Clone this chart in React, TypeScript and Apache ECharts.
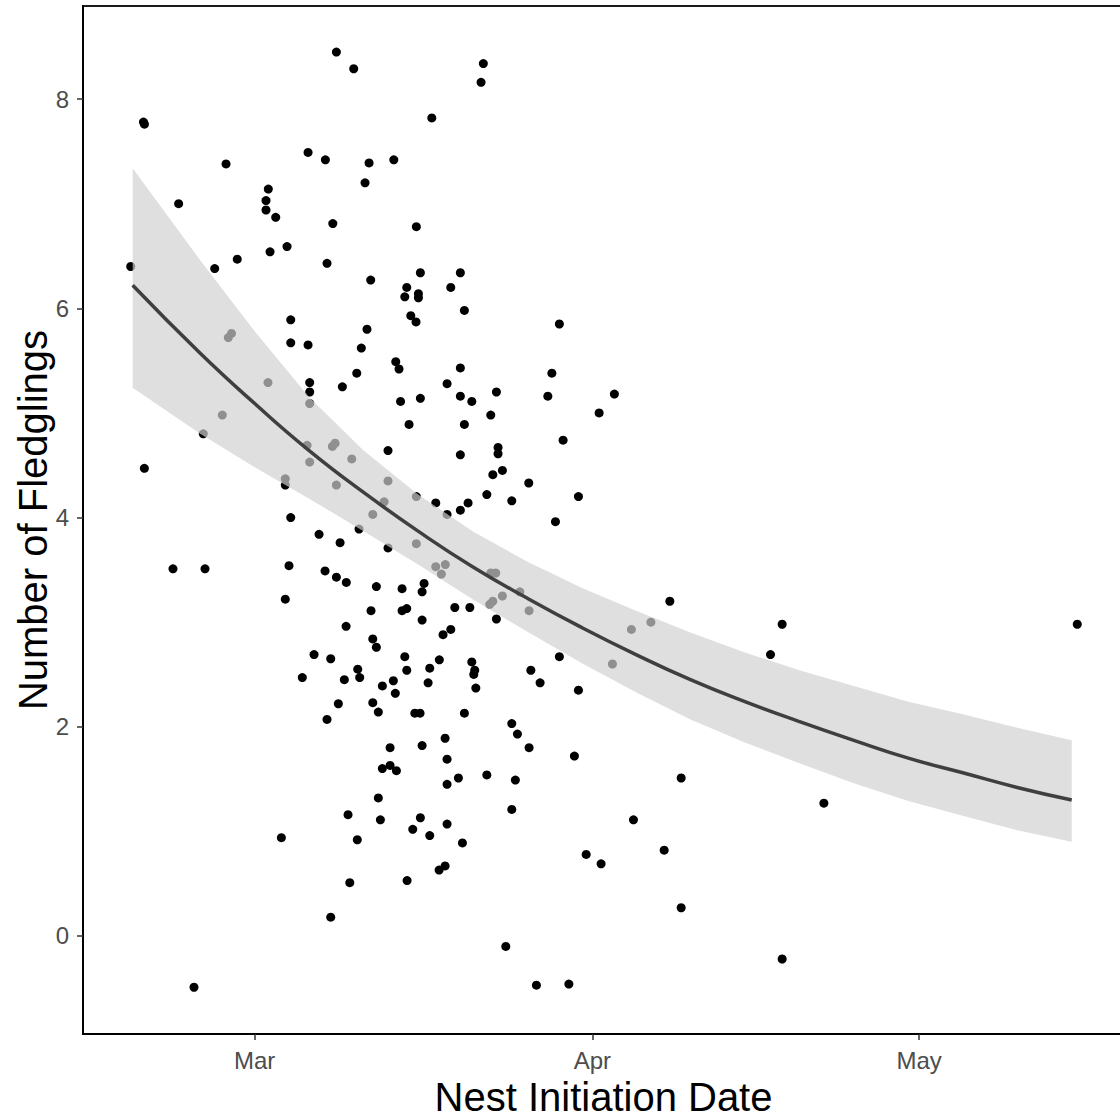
import React, { useEffect, useRef } from "react";
import * as echarts from "echarts";

// Month ticks: days counted from 1 March
const monthTickDays = [0, 31, 61];
const monthTickLabels = ["Mar", "Apr", "May"];
const yTickValues = [0, 2, 4, 6, 8];

// Nest initiation (days after 1 March) for each nest
const nestDay = [
  7.5, 9.09, -10.21, -10.12, -2.63, 4.9, 6.49, 10.5, 12.77, 10.13,
  1.25, 1.04, 1.04, 1.93, 7.17, -6.98, 1.41, 2.97, 6.64, 10.65,
  -11.38, -3.67, -1.6, 3.31, 10.31, 3.31, 4.9, 9.79, 12.95, -2.42,
  -2.13, 20.99, 20.78, 16.26, 14.84, 15.21, 18.88, 13.96, 18.0, 13.78,
  15.03, 15.03, 19.25, 14.33, 14.81, 27.97, 9.37, 5.05, 5.05, 8.05,
  13.25, 13.39, 1.22, -2.97, -4.72, 5.05, -10.13, 4.81, 7.13, 7.38,
  5.05, 8.91, 2.81, 2.81, 7.5, 12.24, 12.24, 11.88, 10.84, 9.58,
  12.24, 3.31, 5.91, 7.84, -7.5, -4.56, 3.15, 6.46, 7.5, 8.41,
  11.17, 13.53, 2.81, 10.68, 13.53, 13.96, 8.39, 10.84, 11.17, 5.45,
  6.98, 4.37, 8.23, 9.46, 9.64, 11.72, 12.73, 18.88, 27.28, 17.66,
  15.21, 18.88, 19.93, 22.19, 26.91, 33.02, 31.62, 14.17, 19.25, 21.67,
  28.31, 18.88, 22.34, 22.34, 21.86, 22.74, 25.16, 21.31, 23.6, 29.72,
  27.61, 16.62, 19.59, 18.88, 17.66, 14.84, 14.84, 16.62, 17.5, 17.14,
  21.67, 22.13, 22.74, 24.34, 21.58, 21.86, 25.19, 22.19, 34.58, 36.37,
  32.84, 38.11, 15.55, 15.37, 18.37, 19.75, 15.37, 17.29, 18.0, 13.78,
  13.96, 16.07, 16.95, 19.93, 20.2, 20.11, 27.97, 25.35, 26.2, 15.92,
  20.3, 29.72, 12.91, 7.68, 10.84, 11.35, 6.64, 12.43, 11.72, 12.43,
  13.01, 11.35, 8.57, 11.54, 2.45, 9.42, 8.73, 6.98, -5.57, 14.7,
  15.18, 19.25, 23.6, 24.12, 25.19, 29.35, 17.48, 15.37, 17.66, 18.7,
  17.66, 21.31, 23.93, 39.15, 23.6, 15.21, 14.51, 16.07, 17.66, 19.07,
  16.93, 17.48, 13.99, 34.77, 37.59, 30.43, 31.8, 39.15, 23.05, 25.86,
  28.84, 48.42, 75.51, 47.35, 52.25, 48.42,
];

// Number of fledglings (jittered) for each nest
const fledglings = [
  8.45, 8.29, 7.78, 7.76, 7.38, 7.49, 7.42, 7.39, 7.42, 7.2,
  7.14, 7.03, 6.94, 6.87, 6.81, 7.0, 6.54, 6.59, 6.43, 6.27,
  6.4, 6.38, 6.47, 5.89, 5.8, 5.67, 5.65, 5.62, 5.49, 5.72,
  5.76, 8.34, 8.16, 7.82, 6.78, 6.34, 6.34, 6.2, 6.2, 6.11,
  6.14, 6.1, 5.98, 5.93, 5.87, 5.85, 5.38, 5.29, 5.2, 5.25,
  5.42, 5.11, 5.29, 4.98, 4.8, 5.09, 4.47, 4.69, 4.68, 4.71,
  4.53, 4.56, 4.37, 4.31, 4.31, 4.35, 4.64, 4.15, 4.03, 3.89,
  3.71, 4.0, 3.84, 3.76, 3.51, 3.51, 3.54, 3.49, 3.43, 3.38,
  3.34, 3.32, 3.22, 3.11, 3.11, 3.13, 2.96, 2.84, 2.76, 2.69,
  2.65, 2.47, 2.45, 2.55, 2.47, 2.39, 2.44, 5.43, 5.38, 5.28,
  5.14, 5.16, 5.11, 5.2, 5.16, 5.18, 5.0, 4.89, 4.89, 4.98,
  4.74, 4.6, 4.67, 4.61, 4.41, 4.45, 4.33, 4.22, 4.16, 4.2,
  3.96, 4.14, 4.14, 4.07, 4.03, 4.2, 3.75, 3.53, 3.55, 3.46,
  3.47, 3.47, 3.25, 3.29, 3.17, 3.2, 3.11, 3.03, 2.93, 3.0,
  2.6, 3.2, 3.37, 3.29, 3.14, 3.14, 3.02, 2.88, 2.93, 2.67,
  2.54, 2.56, 2.64, 2.62, 2.54, 2.5, 2.67, 2.54, 2.42, 2.42,
  2.37, 2.35, 2.32, 2.22, 2.23, 2.14, 2.07, 1.8, 1.6, 1.63,
  1.58, 1.32, 1.16, 1.11, 0.94, 0.92, 0.51, 0.18, -0.49, 2.13,
  2.13, 2.13, 2.03, 1.93, 1.8, 1.72, 1.89, 1.82, 1.69, 1.51,
  1.45, 1.54, 1.49, 1.51, 1.21, 1.13, 1.02, 0.96, 1.07, 0.89,
  0.63, 0.67, 0.53, 1.11, 0.82, 0.78, 0.69, 0.27, -0.1, -0.47,
  -0.46, 2.98, 2.98, 2.69, 1.27, -0.22,
];

// Fitted curve and its confidence band
const fitDay = [-11.2, -5, 0, 5, 10, 15, 20, 25, 30, 35, 40, 45, 50, 55, 60, 65, 70, 75];
const fitMean = [6.22, 5.57, 5.09, 4.64, 4.24, 3.87, 3.53, 3.23, 2.95, 2.69, 2.45, 2.24, 2.05, 1.87, 1.7, 1.56, 1.42, 1.3];
const fitUpper = [7.34, 6.46, 5.78, 5.15, 4.64, 4.22, 3.87, 3.58, 3.33, 3.11, 2.9, 2.71, 2.54, 2.39, 2.24, 2.12, 1.99, 1.87];
const fitLower = [5.24, 4.8, 4.48, 4.18, 3.87, 3.55, 3.22, 2.91, 2.61, 2.33, 2.07, 1.85, 1.65, 1.46, 1.29, 1.15, 1.01, 0.9];

const X_MIN = -15.76;
const X_MAX = 79.8;
const Y_MIN = -0.937;
const Y_MAX = 8.89;

const FONT = "'Liberation Sans', Arial, Helvetica, sans-serif";

export default function App() {
  const ref = useRef<HTMLDivElement>(null);

  useEffect(() => {
    if (!ref.current) return;
    const chart = echarts.init(ref.current, null, { renderer: "svg" });
    const n = Math.min(nestDay.length, fledglings.length);
    const points: number[][] = [];
    for (let i = 0; i < n; i++) points.push([nestDay[i], fledglings[i]]);
    const fitLine = fitDay.map((d, i) => [d, fitMean[i]]);

    chart.setOption({
      animation: false,
      backgroundColor: "#ffffff",
      grid: {
        left: 83,
        right: 6,
        top: 6,
        bottom: 86,
        containLabel: false,
        outerBoundsMode: "none",
        show: true,
        borderColor: "#1a1a1a",
        borderWidth: 2,
        backgroundColor: "#ffffff",
      },
      xAxis: {
        type: "value",
        min: X_MIN,
        max: X_MAX,
        name: "Nest Initiation Date",
        nameLocation: "middle",
        nameGap: 43,
        nameMoveOverlap: false,
        nameTextStyle: { fontSize: 40, color: "#000000", fontFamily: FONT },
        axisLine: { show: true, onZero: false, lineStyle: { color: "#000000", width: 2 } },
        axisTick: {
          show: true,
          length: 6,
          customValues: monthTickDays,
          lineStyle: { color: "#333333", width: 1.5 },
        },
        axisLabel: {
          show: true,
          customValues: monthTickDays,
          formatter: (v: number) => {
            const k = monthTickDays.indexOf(Math.round(v));
            return k >= 0 ? monthTickLabels[k] : "";
          },
          fontSize: 24,
          color: "#4d4d4d",
          margin: 14,
          fontFamily: FONT,
        },
        splitLine: { show: false },
      },
      yAxis: {
        type: "value",
        min: Y_MIN,
        max: Y_MAX,
        name: "Number of Fledglings",
        nameLocation: "middle",
        nameRotate: 90,
        nameGap: 30,
        nameMoveOverlap: false,
        nameTextStyle: { fontSize: 40, color: "#000000", fontFamily: FONT },
        axisLine: { show: true, onZero: false, lineStyle: { color: "#000000", width: 2 } },
        axisTick: {
          show: true,
          length: 6,
          customValues: yTickValues,
          lineStyle: { color: "#333333", width: 1.5 },
        },
        axisLabel: {
          show: true,
          customValues: yTickValues,
          fontSize: 24,
          color: "#4d4d4d",
          margin: 14,
          fontFamily: FONT,
        },
        splitLine: { show: false },
      },
      series: [
        {
          type: "scatter",
          data: points,
          symbol: "circle",
          symbolSize: 9,
          itemStyle: { color: "#000000", opacity: 1 },
          z: 2,
          silent: true,
        },
        {
          type: "custom",
          coordinateSystem: "cartesian2d",
          data: [[fitDay[0], fitMean[0]]],
          z: 3,
          silent: true,
          renderItem: (_params: any, api: any) => {
            const pts: number[][] = [];
            for (let i = 0; i < fitDay.length; i++) pts.push(api.coord([fitDay[i], fitUpper[i]]));
            for (let i = fitDay.length - 1; i >= 0; i--) pts.push(api.coord([fitDay[i], fitLower[i]]));
            return {
              type: "polygon",
              shape: { points: pts },
              style: { fill: "rgba(208,208,208,0.69)", stroke: "none" },
            };
          },
        },
        {
          type: "line",
          data: fitLine,
          smooth: true,
          showSymbol: false,
          symbol: "none",
          lineStyle: { color: "#3f3f3f", width: 3.5 },
          z: 4,
          silent: true,
        },
      ],
    });

    return () => {
      chart.dispose();
    };
  }, []);

  return (
    <div
      style={{
        position: "fixed",
        left: 0,
        top: 0,
        width: 1120,
        height: 1120,
        overflow: "hidden",
        background: "#ffffff",
      }}
    >
      <div ref={ref} style={{ width: 1130, height: 1120 }} />
    </div>
  );
}
